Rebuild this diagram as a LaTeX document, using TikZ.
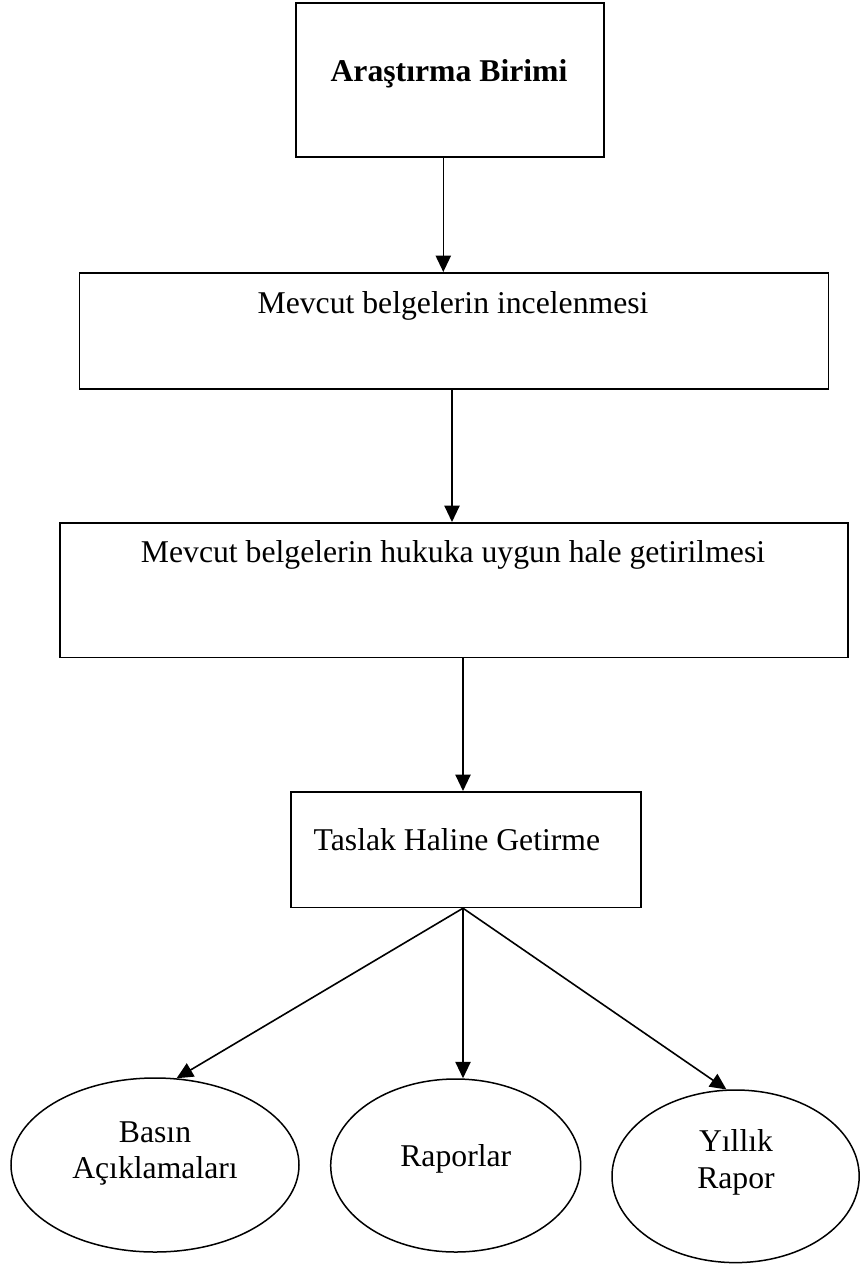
\documentclass[tikz,border=0pt]{standalone}
\usepackage{fontspec}
\setmainfont{Liberation Serif}
\usetikzlibrary{arrows.meta,shapes.geometric}
\begin{document}
\begin{tikzpicture}[x=0.5pt,y=-0.5pt,
  box/.style={draw, line width=0.85pt, rectangle, inner sep=0pt, anchor=north west},
  oval/.style={draw, line width=0.75pt, ellipse, inner sep=0pt},
  lbl/.style={anchor=base, inner sep=0pt, font=\fontsize{15.85}{18.2}\selectfont},
  arr/.style={line width=0.8pt, -{Triangle[width=7.6pt,length=8.2pt]}}]
\useasboundingbox (0,0) rectangle (861,1266);

% boxes
\node[box, minimum width=154pt, minimum height=77pt] (b1) at (295,2) {};
\node[box, minimum width=374.5pt, minimum height=58pt] (b2) at (78.7,272) {};
\node[box, minimum width=393.85pt, minimum height=67.25pt] (b3) at (59.3,522) {};
\node[box, minimum width=175pt, minimum height=57.75pt] (b4) at (290,791) {};

% box texts
\node[lbl] (t1) at (449,81) {\textbf{Araştırma Birimi}};
\node[lbl] (t2) at (453,313) {Mevcut belgelerin incelenmesi};
\node[lbl] (t3) at (453,562) {Mevcut belgelerin hukuka uygun hale getirilmesi};
\node[lbl, anchor=base west] (t4) at (313.3,850) {Taslak Haline Getirme};

% ellipses
\node[oval, minimum width=144pt, minimum height=87pt] (e1) at (155,1165) {};
\node[oval, minimum width=125pt, minimum height=86.5pt] (e2) at (455.7,1165.5) {};
\node[oval, minimum width=123.6pt, minimum height=86.3pt] (e3) at (735.6,1176.3) {};

\node[lbl] (l1a) at (155,1142) {Basın};
\node[lbl] (l1b) at (155,1178.3) {Açıklamaları};
\node[lbl] (l2) at (455.8,1166.7) {Raporlar};
\node[lbl] (l3a) at (736,1151.7) {Yıllık};
\node[lbl] (l3b) at (736,1188.3) {Rapor};

% connectors
\coordinate (x1) at (443.3,0);
\coordinate (x2) at (452,0);
\coordinate (x3) at (463,0);
\draw[arr] (b1.south -| x1) -- (b2.north -| x1);
\draw[arr] (b2.south -| x2) -- (b3.north -| x2);
\draw[arr] (b3.south -| x3) -- (b4.north -| x3);
\coordinate (fan) at (b4.south -| x3);
\draw[arr] (fan) -- (e1.76);
\draw[arr] (fan) -- (fan |- e2.north);
\draw[arr] (fan) -- (e3.96);
\end{tikzpicture}
\end{document}
